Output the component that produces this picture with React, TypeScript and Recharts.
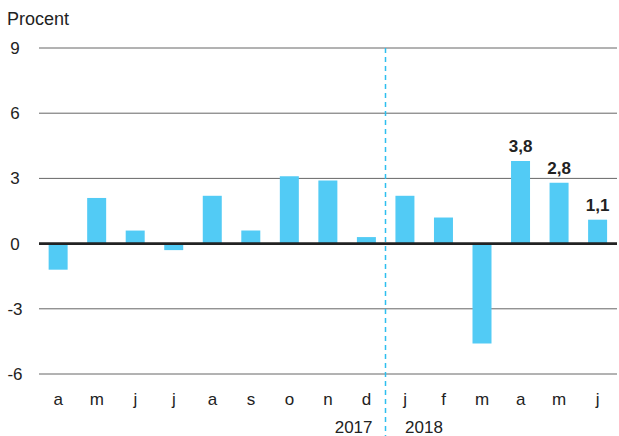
import React from "react";
import {
  BarChart,
  Bar,
  XAxis,
  YAxis,
  CartesianGrid,
  ReferenceLine,
  LabelList,
  Customized,
} from "recharts";

if (typeof document !== "undefined") {
  document.body.style.margin = "0";
}

const months = ["a", "m", "j", "j", "a", "s", "o", "n", "d", "j", "f", "m", "a", "m", "j"];
const growth = [-1.2, 2.1, 0.6, -0.3, 2.2, 0.6, 3.1, 2.9, 0.3, 2.2, 1.2, -4.6, 3.8, 2.8, 1.1];
const showLabel = [false, false, false, false, false, false, false, false, false, false, false, false, true, true, true];
const yearLabels = ["", "", "", "", "", "", "", "", "2017", "2018", "", "", "", "", ""];
const yTicks = [-6, -3, 0, 3, 6, 9];
const yearBreakIndex = 9;

const data = months.map((m, i) => ({
  key: `${m}-${i}`,
  month: m,
  value: growth[i],
  lbl: showLabel[i] ? growth[i].toFixed(1).replace(".", ",") : null,
  year: yearLabels[i],
}));

const FONT = "'Liberation Sans', Arial, Helvetica, sans-serif";
const BAR = "#52CBF5";
const TEXT = "#222";

const XTick = (props: any) => {
  const { x, payload, index } = props;
  const d = data[index] || data[payload.index];
  const year = d ? d.year : "";
  return (
    <g>
      <text x={x} y={405} textAnchor="middle" fontSize={17} fontFamily={FONT} fill={TEXT}>
        {d ? d.month : ""}
      </text>
      {year ? (
        <text
          x={index < yearBreakIndex ? x + 6 : x}
          y={433}
          textAnchor={index < yearBreakIndex ? "end" : "start"}
          fontSize={17}
          fontFamily={FONT}
          fill={TEXT}
        >
          {year}
        </text>
      ) : null}
    </g>
  );
};

const YTick = (props: any) => {
  const { y, payload } = props;
  return (
    <text x={15} y={y + 6} textAnchor="middle" fontSize={17} fontFamily={FONT} fill={TEXT}>
      {payload.value}
    </text>
  );
};

const ValueLabel = (props: any) => {
  const { x, y, width, value } = props;
  if (value === null || value === undefined || value === "") return null;
  return (
    <text
      x={x + width / 2}
      y={y - 9}
      textAnchor="middle"
      fontSize={17}
      fontWeight="bold"
      fontFamily={FONT}
      fill={TEXT}
    >
      {value}
    </text>
  );
};

const DashedShape = (p: any) => {
  const top = Math.min(p.y1, p.y2);
  const lx = Math.floor(p.x1) + 0.5;
  return (
    <line
      x1={lx}
      y1={top}
      x2={lx}
      y2={436}
      stroke="#2EBFEF"
      strokeWidth={1.5}
      strokeDasharray="5 4"
    />
  );
};

export default function App() {
  return (
    <div style={{ width: 619, height: 436 }}>
      <BarChart
        width={619}
        height={436}
        data={data}
        margin={{ top: 48, right: 2, bottom: 0, left: 0 }}
        barCategoryGap="25%"
      >
        <CartesianGrid vertical={false} stroke="#666" strokeWidth={1} />
        <XAxis
          dataKey="key"
          height={62}
          axisLine={false}
          tickLine={false}
          interval={0}
          tick={<XTick />}
        />
        <YAxis
          width={39}
          domain={[-6, 9]}
          ticks={yTicks}
          axisLine={false}
          tickLine={false}
          tick={<YTick />}
        />
        <Bar dataKey="value" fill={BAR} isAnimationActive={false}>
          <LabelList dataKey="lbl" content={<ValueLabel />} />
        </Bar>
        <ReferenceLine y={0} stroke="#222" strokeWidth={2.7} />
        <ReferenceLine
          x={data[yearBreakIndex - 1].key}
          position="end"
          shape={<DashedShape />}
        />
        <Customized
          component={() => (
            <text x={7} y={25} fontSize={18} fontFamily={FONT} fill={TEXT}>
              Procent
            </text>
          )}
        />
      </BarChart>
    </div>
  );
}
